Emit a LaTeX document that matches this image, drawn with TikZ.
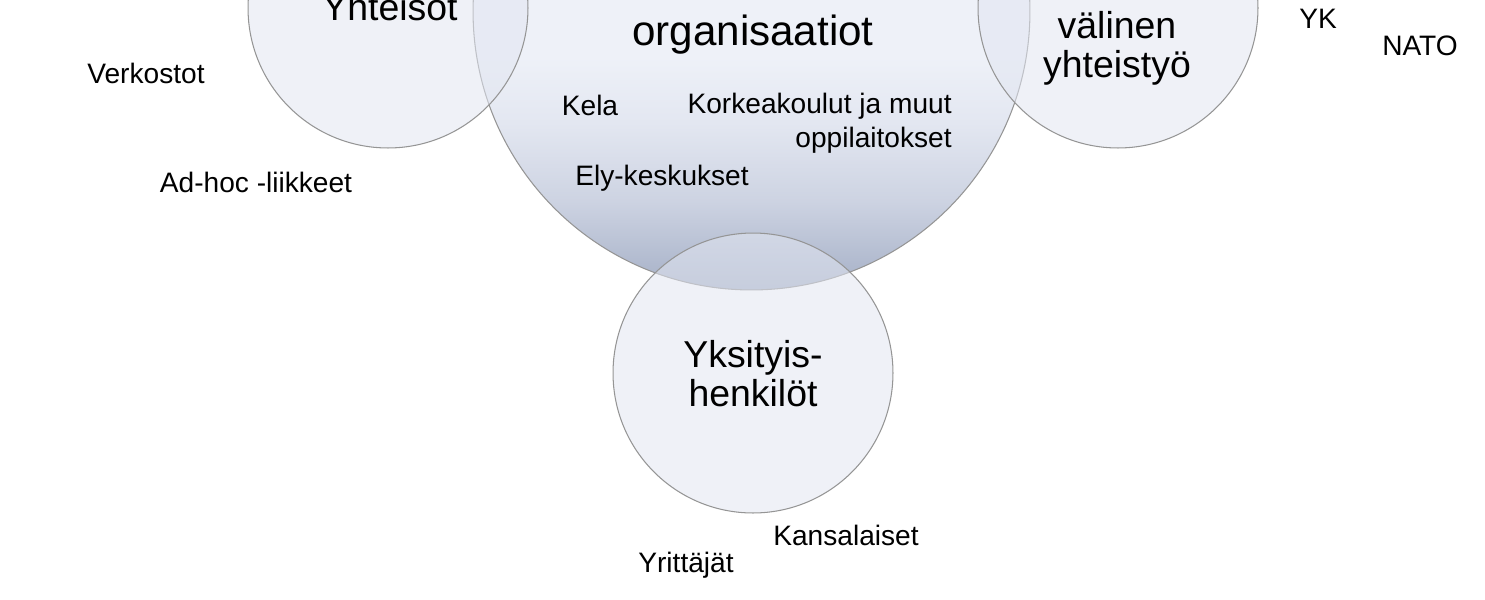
\documentclass[tikz,border=0pt]{standalone}
\usepackage{fontspec}
\setmainfont{Liberation Sans}
\usetikzlibrary{positioning}

\definecolor{ringline}{HTML}{959595}
\definecolor{ringfill}{HTML}{E2E6F1}
\definecolor{shadeA}{HTML}{A6B0C6}
\definecolor{shadeB}{HTML}{B4BDD1}
\definecolor{shadeC}{HTML}{CDD3E2}
\definecolor{shadeE}{HTML}{E3E7F1}
\definecolor{shadeD}{HTML}{EEF1F8}
\pgfdeclareverticalshading{mainshade}{100bp}{color(0bp)=(shadeA); color(25bp)=(shadeA); color(28bp)=(shadeB); color(33bp)=(shadeC); color(40bp)=(shadeE); color(46bp)=(shadeD); color(100bp)=(shadeD)}

\begin{document}
\begin{tikzpicture}[
x=0.02cm, y=-0.02cm,
every node/.style={font=\fontsize{16}{19.3}\selectfont},
ring/.style={draw=ringline, line width=0.6pt, circle, minimum size=5.6cm, inner sep=0pt, fill=ringfill, fill opacity=0.55},
bigring/.style={draw=ringline, line width=0.6pt, circle, minimum size=11.14cm, inner sep=0pt, shading=mainshade},
title/.style={font=\fontsize{21.3}{22.2}\selectfont, align=center, anchor=base, inner sep=0pt},
bigtitle/.style={title, font=\fontsize{24}{26}\selectfont},
item/.style={anchor=base, inner sep=0pt},
]

\useasboundingbox (0,0) rectangle (1485,599);
\clip (0,0) rectangle (1485,599);

% Circles
\node[bigring] (org) at (751.5,11.5) {};
\node[ring] (yht) at (388,8) {};
\node[ring] (kv) at (1118,8) {};
\node[ring] (yks) at (753,373) {};

% Circle titles (base = last line)
\node[title] (yhtlabel) at (390,20) {Yhteisöt};
\node[bigtitle] (orglabel) at (753,45) {Julkishallinnon\\organisaatiot};
\node[title] (kvlabel) at (1117,77) {Kansain-\\välinen\\yhteistyö};
\node[title] (ykslabel) at (753,406) {Yksityis-\\henkilöt};

% Members
\node[item] (verk) at (146,83) {Verkostot};
\node[item] (adhoc) at (256,192) {Ad-hoc -liikkeet};
\node[item] (kela) at (590,115) {Kela};
\node[item, align=right, anchor=base east] (korkea) at (952,147) {Korkeakoulut ja muut\\oppilaitokset};
\node[item] (ely) at (662,185) {Ely-keskukset};
\node[item] (yk) at (1318,28) {YK};
\node[item] (nato) at (1420,55) {NATO};
\node[item] (kans) at (846,545) {Kansalaiset};
\node[item] (yrit) at (686,572) {Yrittäjät};
\end{tikzpicture}
\end{document}
